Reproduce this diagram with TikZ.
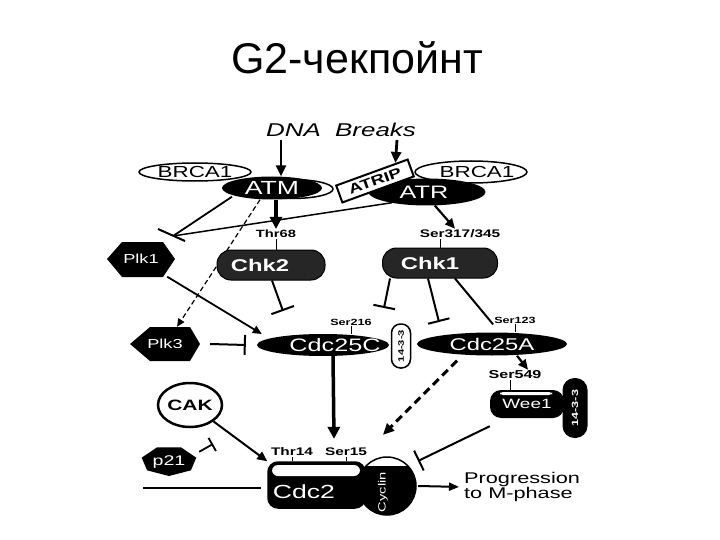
\documentclass[tikz,border=0pt]{standalone}
\usepackage{fontspec}
\setmainfont{Liberation Sans}
\newfontfamily\figfont{Liberation Sans}[FakeStretch=1.4]
\newfontfamily\titlefont{Liberation Sans}
\usetikzlibrary{shapes.geometric,arrows.meta,calc}
\pgfdeclarelayer{bg}
\pgfsetlayers{bg,main}
\newcommand{\myfs}[1]{\fontsize{#1}{#1}\selectfont}
\newcommand{\ctr}[1]{\makebox[0pt]{\raisebox{-0.5\height}[0pt][0pt]{#1}}}
\begin{document}
\begin{tikzpicture}[x=1pt,y=-1pt,
  lbl/.style={font=\figfont\bfseries\myfs{#1}, inner sep=1pt},
  blk/.style={fill=black, text=white, inner sep=0pt},
  outl/.style={draw, line width=1.5pt, fill=white, inner sep=0pt},
  arr/.style={line width=2.2pt, -{Triangle[length=10pt,width=9pt]}},
  bigarr/.style={line width=3.5pt, -{Triangle[length=12pt,width=12pt]}},
  inh/.style={line width=2pt, -{Bar[width=#1]}},
  tick/.style={line width=1pt}]
\useasboundingbox (0,0) rectangle (720,540);

% ---------- title ----------
\node[anchor=base, inner sep=0] (title) at (357,74) {\titlefont\myfs{43}G2-чекпойнт};
\node[inner sep=0] (dna) at (341,130) {\figfont\itshape\myfs{18.5}DNA\ \ Breaks};

% ---------- top complexes ----------
\node[ellipse, outl, minimum width=112pt, minimum height=18pt] (brcal) at (195,172) {\ctr{\figfont\myfs{16}BRCA1}};
\node[ellipse, outl, minimum width=82pt, minimum height=19pt] (atmx) at (292,189) {};
\node[ellipse, blk, minimum width=100pt, minimum height=23pt] (atm) at (272,188) {\ctr{\figfont\myfs{19}ATM}};
\node[ellipse, outl, minimum width=112pt, minimum height=22pt] (brcar) at (471,172) {\ctr{\hspace{12pt}\figfont\myfs{16}BRCA1}};
\node[ellipse, blk, minimum width=117pt, minimum height=27pt] (atr) at (427,192) {\ctr{\hspace{-6pt}\figfont\myfs{18}ATR}};
\node[draw, line width=2pt, fill=white, rotate=20, minimum width=76pt, minimum height=18pt, inner sep=0pt] (atrip) at (375,181) {\ctr{\figfont\bfseries\myfs{13.5}ATRIP}};

% ---------- checkpoint kinases ----------
\node[lbl=10.5] (thr68) at (276,234) {Thr68};
\node[lbl=11] (ser317) at (460,234) {Ser317/345};
\node[rectangle, rounded corners=14pt, fill=black!85, draw=black, line width=1pt, text=white, inner sep=0pt, minimum width=108pt, minimum height=30pt] (chk2) at (271,265) {\ctr{\hspace{-22pt}\figfont\bfseries\myfs{17}Chk2}};
\node[rectangle, rounded corners=14pt, fill=black!85, draw=black, line width=1pt, text=white, inner sep=0pt, minimum width=115pt, minimum height=30pt] (chk1) at (440,263) {\ctr{\hspace{-20pt}\figfont\bfseries\myfs{17}Chk1}};

% ---------- Plk1 / Plk3 ----------
\fill (107,259) -- (122,242) -- (163,242) -- (175,259) -- (163,277) -- (122,277) -- cycle;
\node[inner sep=0pt, minimum width=68pt, minimum height=35pt, text=white] (plk1) at (141,259) {\ctr{\figfont\myfs{13}Plk1}};
\fill (130,344) -- (150,327) -- (190,327) -- (200,344) -- (190,361) -- (150,361) -- cycle;
\node[inner sep=0pt, minimum width=70pt, minimum height=34pt, text=white] (plk3) at (165,344) {\ctr{\figfont\myfs{13}Plk3}};

% ---------- Cdc25 ----------
\node[lbl=9] (ser216) at (351,322) {Ser216};
\node[ellipse, blk, minimum width=132pt, minimum height=22pt] (cdc25c) at (323,345) {\ctr{\hspace{24pt}\figfont\myfs{18}Cdc25C}};
\node[draw, line width=1.5pt, fill=white, rounded corners=9pt, minimum width=19pt, minimum height=44pt, inner sep=0pt] (ya) at (401,346) {\ctr{\rotatebox{90}{\figfont\bfseries\myfs{8}14-3-3}}};
\node[lbl=9] (ser123) at (515,320) {Ser123};
\node[ellipse, blk, minimum width=150pt, minimum height=23pt] (cdc25a) at (492,344) {\ctr{\figfont\myfs{17}Cdc25A}};

% ---------- Wee1 ----------
\node[lbl=11.5] (ser549) at (515,375) {Ser549};
\node[rectangle, rounded corners=11pt, blk, minimum width=74pt, minimum height=28pt] (wee1) at (527,404) {\ctr{\figfont\myfs{13.5}Wee1}};
\fill[white, rounded corners=3pt] (500,392) rectangle (552,395);
\node[rectangle, rounded corners=12pt, blk, minimum width=25pt, minimum height=60pt] (yb) at (575,408) {\ctr{\rotatebox{90}{\figfont\bfseries\myfs{9}14-3-3}}};

% ---------- CAK / p21 ----------
\node[ellipse, draw, line width=2.5pt, minimum width=64pt, minimum height=44pt, inner sep=0pt] (cak) at (190,405) {\ctr{\figfont\bfseries\myfs{15}CAK}};
\fill[shift={(169,461)}] (90:28 and 15) -- (141.43:28 and 15) -- (192.86:28 and 15) -- (244.29:28 and 15) -- (295.71:28 and 15) -- (347.14:28 and 15) -- (38.57:28 and 15) -- cycle;
\node[inner sep=0pt, minimum width=56pt, minimum height=30pt, text=white] (p21) at (169,461) {\ctr{\figfont\myfs{14}p21}};

% ---------- Cdc2 / Cyclin ----------
\node[lbl=11] (thr14) at (292,452) {Thr14};
\node[lbl=11] (ser15) at (346,452) {Ser15};
\node[rectangle, rounded corners=10pt, fill=black, draw=black, line width=1.5pt, inner sep=0pt, minimum width=97pt, minimum height=46pt] (cdc2) at (316.5,485) {};
\fill[white, rounded corners=6pt] (272,465) rectangle (360,476);
\node[text=white, inner sep=0pt, font=\figfont\myfs{19}] (cdc2t) at (304,492) {Cdc2};
\fill[black] (387,486) circle[radius=29pt];
\begin{scope}
  \clip (387,486) circle[radius=29pt];
  \fill[white] (350,450) rectangle (420,466);
\end{scope}
\draw[line width=1.5pt] (387,486) circle[radius=29pt];
\node[circle, inner sep=0pt, minimum size=58pt] (cyc) at (387,486) {};
\node[text=white, inner sep=0pt, rotate=90, font=\figfont\myfs{10.5}] (cyct) at (383,492) {Cyclin};
\node[anchor=west, align=left, inner sep=0pt, font=\figfont\myfs{15.5}] (prog) at (464,487) {\fontsize{15.5}{18}\selectfont Progression\\to M-phase};

% ---------- connectors ----------
\coordinate (pbar) at (173,236);
\coordinate (c2bar) at (283,311);
\coordinate (k1a) at (384,308);
\coordinate (k1b) at (439,322);
\coordinate (weebar) at (418,461);
\coordinate (p21bar) at (213,444);
\coordinate (lft) at (143,488);

\begin{pgfonlayer}{bg}
\fill[white] (0,0) rectangle (720,540);
\draw[line width=2.8pt, -{Triangle[length=11pt,width=10pt]}] ([xshift=-60pt,yshift=-3pt]dna.south) -- ([xshift=9pt]atm.north);
\draw[line width=2.8pt, -{Triangle[length=11pt,width=10pt]}] ([xshift=56pt,yshift=-3pt]dna.south) -- ($(atrip.north)!0.65!(atrip.north east)$);
\draw[bigarr] (atm.south -| thr68.north) -- (thr68.north);
\draw[tick] (thr68.south) -- (thr68.south |- chk2.north);
\draw[arr] (atr.-60) -- ([xshift=-5pt]ser317.north);
\draw[tick] (chk1.north) -- (chk1.north |- ser317.south);
% to Plk1 inhibition
\draw[line width=1.8pt] ([xshift=-40pt,yshift=3pt]atm.south) -- (pbar);
\draw[line width=1.5pt] ([xshift=-35pt,yshift=3pt]atr.south) -- (pbar);
\draw[line width=2pt] ($(pbar)+(-15,-7)$) -- ($(pbar)+(12,5)$);
% ATM - - > Plk3
\draw[line width=1.2pt, dash pattern=on 5pt off 3pt, -{Triangle[length=8pt,width=7pt]}] ([xshift=-12pt]atm.south) -- ([xshift=12pt]plk3.north);
% Plk1 -> Cdc25C
\draw[line width=1.8pt, -{Triangle[length=9pt,width=8pt]}] ([xshift=-8pt]plk1.south east) -- ([xshift=5pt,yshift=11pt]cdc25c.west);
% Plk3 -| Cdc25C
\draw[inh=20pt] ([xshift=10pt]plk3.east) -- ([xshift=-11pt]cdc25c.west);
% Chk2 -| Cdc25C
\draw[inh=24pt] ([xshift=1pt]chk2.south) -- (c2bar);
% Chk1 branches
\draw[inh=22pt] ([xshift=-50pt]chk1.south) -- (k1a);
\draw[inh=22pt] ([xshift=-12pt]chk1.south) -- (k1b);
\draw[line width=2pt] ([xshift=15pt]chk1.south) -- (ser123.south west);
% phospho ticks
\draw[tick] (ser216.south) -- (ser216.south |- cdc25c.north);
\draw[tick] (ser123.south) -- (ser123.south |- cdc25a.north);
\draw[arr] ([xshift=25pt]cdc25a.south) -- ([xshift=13pt]ser549.north);
\draw[tick] ([xshift=-17pt]wee1.north) -- ([xshift=-17pt]wee1.north |- ser549.south);
% Cdc25C -> Cdc2
\draw[bigarr] ([xshift=10pt]cdc25c.south) -- ([xshift=-12pt,yshift=8pt]ser15.north);
% Cdc25A - - > Cdc2
\draw[line width=3pt, dash pattern=on 8pt off 5pt, -{Triangle[length=11pt,width=10pt]}] ([xshift=-35pt,yshift=-5pt]cdc25a.south) -- ([xshift=-4pt,yshift=22pt]cyc.north);
% Wee1 -| Cdc2
\draw[inh=22pt] ([yshift=-8pt]wee1.south west) -- (weebar);
% CAK -> Cdc2
\draw[line width=2pt, -{Triangle[length=10pt,width=9pt]}] (cak.south east) -- (cdc2.north west);
% p21 -|
\draw[line width=1.8pt, -{Bar[width=15pt]}] ([xshift=2pt,yshift=-6pt]p21.north east) -- (p21bar);
% plain line to Cdc2
\draw[line width=2.5pt] (lft) -- ([xshift=-6pt,yshift=-3pt]cdc2.west);
\draw[tick] (thr14.south) -- (thr14.south |- cdc2.north);
\draw[tick] (ser15.south) -- (ser15.south |- cdc2.north);
% Cyclin -> progression
\draw[line width=2pt, -{Triangle[length=10pt,width=8pt]}, shorten >=5pt] ([xshift=2pt]cyc.east) -- (prog.west);
\end{pgfonlayer}
\end{tikzpicture}
\end{document}
